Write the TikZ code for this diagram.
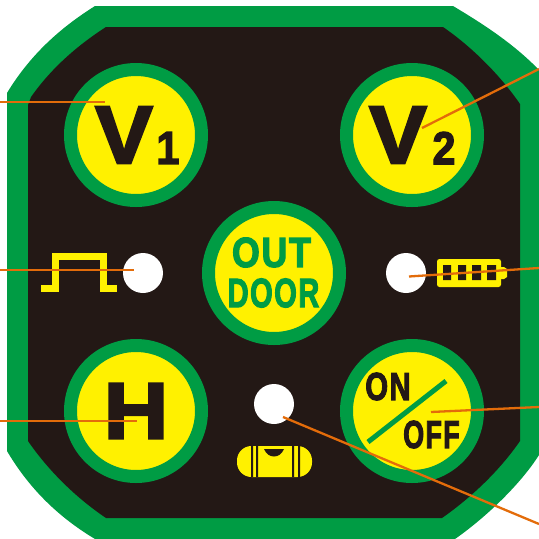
\documentclass[tikz,border=0pt]{standalone}
\usepackage{fontspec}
\setmainfont{Liberation Sans}
\newfontfamily\hv[BoldFeatures={FakeBold=3}]{Liberation Sans}
\newfontfamily\hw[BoldFeatures={FakeBold=3,LetterSpace=5}]{Liberation Sans}
\definecolor{pgreen}{HTML}{009C44}
\definecolor{pblack}{HTML}{231815}
\definecolor{pyellow}{HTML}{FFF100}
\definecolor{porange}{HTML}{E36C0A}
\newcommand{\hvs}[1]{\hv\bfseries\fontsize{#1}{#1}\selectfont}
\newcommand{\hws}[1]{\hw\bfseries\fontsize{#1}{#1}\selectfont}
\tikzset{
  btn/.style={circle,draw=pgreen,line width=13pt,fill=pyellow,minimum size=131pt,inner sep=0pt},
  led/.style={circle,fill=white,minimum size=40pt,inner sep=0pt},
  lead/.style={draw=porange,line width=2.3pt},
  blk/.style={text=pblack,inner sep=0pt},
  grn/.style={text=pgreen,inner sep=0pt},
  sym/.style={draw=pyellow,line width=7pt,line join=miter}
}
\begin{document}
\begin{tikzpicture}[x=1pt,y=-1pt]
\useasboundingbox (0,0) rectangle (539,539);
\fill[pgreen] (7,93) .. controls (30,55) and (60,28) .. (95,6) -- (453,6) .. controls (485,25) and (515,45) .. (539,70) -- (539,455) .. controls (520,485) and (485,518) .. (455,539) -- (95,539) .. controls (60,518) and (30,490) .. (7,451) -- cycle;
\fill[pblack] (31,97) .. controls (50,70) and (75,47) .. (106,27) -- (443,27) .. controls (472,47) and (500,75) .. (520,104) -- (520,441) .. controls (500,470) and (472,497) .. (442,518) -- (106,518) .. controls (75,497) and (48,470) .. (28,441) -- (28,105) -- cycle;
\node[btn] (v1) at (136,135) {};
\node[btn] (v2) at (412,135) {};
\node[btn] (out) at (274,273) {};
\node[btn] (h) at (136,411) {};
\node[btn] (on) at (412,411) {};
\node[led] (l1) at (143,273) {};
\node[led] (l2) at (406,273) {};
\node[led] (l3) at (274,404) {};
\node[blk,font=\hvs{82},xscale=1.05] (tv1) at (124,135) {V};
\node[blk,font=\hvs{46},xscale=.9] (tv1s) at (168,148) {1};
\node[blk,font=\hvs{82},xscale=1.05] (tv2) at (398,135) {V};
\node[blk,font=\hvs{46},xscale=.9] (tv2s) at (444,148) {2};
\node[blk,font=\hvs{80},xscale=1.12] (th) at (136,411) {H};
\node[grn,font=\hws{42},xscale=.85] (tout) at (271.5,252.5) {OUT};
\node[grn,font=\hws{41},xscale=.71] (tdoor) at (273.5,293) {DOOR};
\node[blk,font=\hws{39},xscale=.75] (ton) at (388,386.5) {ON};
\node[blk,font=\hws{39},xscale=.69] (toff) at (431.5,434.5) {OFF};
\coordinate (s1) at (368,442);
\coordinate (s2) at (446,381);
\draw[pgreen,line width=5pt] (s1) -- (s2);
% pulse symbol
\draw[sym] (41,288.5) -- (55,288.5) -- (55,256.5) -- (103.5,256.5) -- (103.5,288.5) -- (117,288.5);
% battery symbol
\fill[pyellow,rounded corners=2.5pt] (437,259) rectangle (501,287);
\fill[pyellow] (499,267) -- (504,267) -- (507,269) -- (507,277) -- (504,279) -- (499,279) -- cycle;
\fill[pblack] (443,265) rectangle (451,280) (458,265) rectangle (466,280) (472,265) rectangle (481,280) (487,265) rectangle (496,280);
% level
\fill[pyellow,rounded corners=14.5pt] (237,446) rectangle (312,477);
\fill[pblack] (264,449) -- (284,449) .. controls (280,459) and (268,459) .. (264,449) -- cycle;
\fill[pblack] (251,446) rectangle (253,477) (256,446) rectangle (258,477) (292,446) rectangle (294,477) (298,446) rectangle (300,477);
% leaders
\coordinate (e1) at (0,102); \coordinate (e2) at (539,69); \coordinate (e3) at (0,270);
\coordinate (e4) at (539,268); \coordinate (e5) at (0,421); \coordinate (e6) at (539,407); \coordinate (e7) at (539,524);
\coordinate (a1) at (105,102); \coordinate (a2) at (422,128); \coordinate (a3) at (134,270);
\coordinate (a4) at (409,276.5); \coordinate (a5) at (137,421); \coordinate (a6) at (431,412); \coordinate (a7) at (283,417);
\draw[lead] (e1) -- (a1);
\draw[lead] (e2) -- (a2);
\draw[lead] (e3) -- (a3);
\draw[lead] (e4) -- (a4);
\draw[lead] (e5) -- (a5);
\draw[lead] (e6) -- (a6);
\draw[lead] (e7) -- (a7);
\end{tikzpicture}
\end{document}
